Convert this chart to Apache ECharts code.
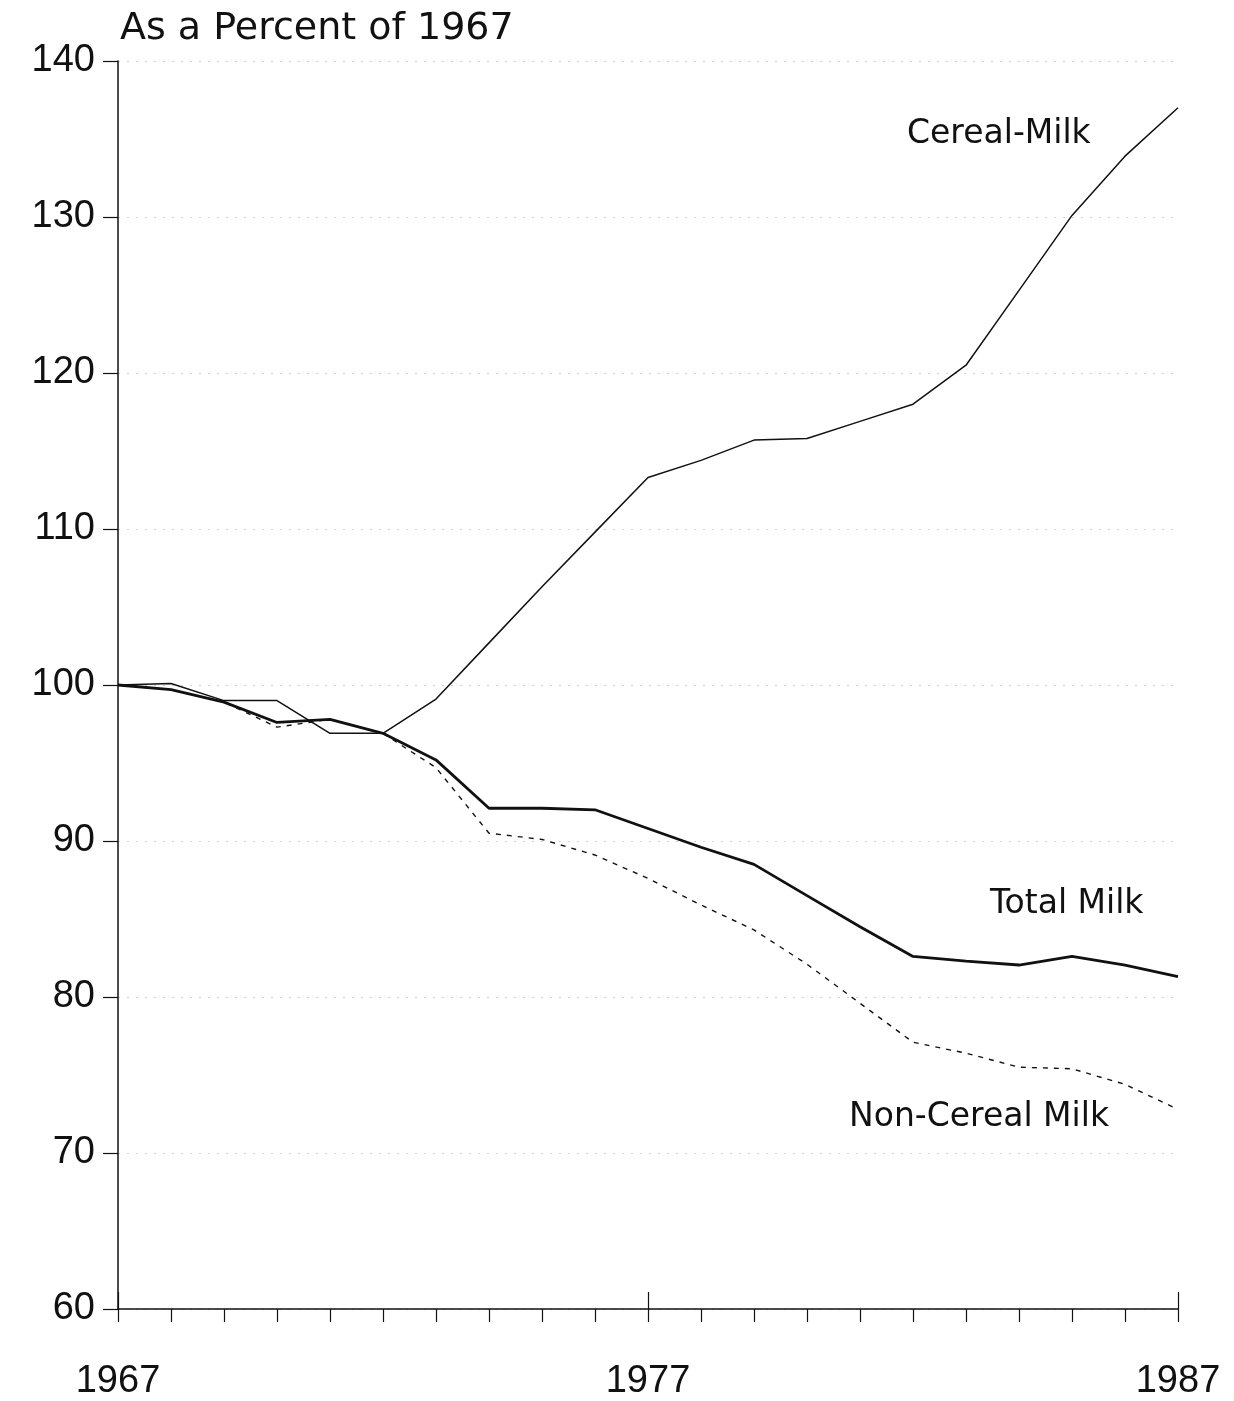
<!DOCTYPE html>
<html>
<head>
<meta charset="utf-8">
<style>
html,body{margin:0;padding:0;background:#fff;}
#chart{width:1234px;height:1401px;}
</style>
<script src="https://cdn.jsdelivr.net/npm/echarts@6/dist/echarts.min.js"></script>
</head>
<body>
<div id="chart"></div>
<script>
const years = [1967,1968,1969,1970,1971,1972,1973,1974,1975,1976,1977,1978,1979,1980,1981,1982,1983,1984,1985,1986,1987];
const cerealMilk = [100, 100.1, 99.0, 99.0, 96.9, 96.9, 99.1, 102.7, 106.3, 109.8, 113.3, 114.4, 115.7, 115.8, 116.9, 118.0, 120.5, 125.3, 130.1, 133.9, 137.0];
const totalMilk = [100, 99.7, 98.9, 97.6, 97.8, 96.9, 95.2, 92.1, 92.1, 92.0, 90.8, 89.6, 88.5, 86.5, 84.5, 82.6, 82.3, 82.05, 82.6, 82.05, 81.3];
const nonCerealMilk = [100, 99.7, 98.9, 97.3, 97.8, 96.9, 94.7, 90.5, 90.1, 89.1, 87.6, 85.9, 84.3, 82.1, 79.6, 77.1, 76.4, 75.5, 75.4, 74.4, 72.8];
const yTicks = [60, 70, 80, 90, 100, 110, 120, 130, 140];
const xLabelYears = [1967, 1977, 1987];
const titleText = 'As a Percent of 1967';
const seriesNames = ['Cereal-Milk', 'Total Milk', 'Non-Cereal Milk'];

const FONT = '"Liberation Sans", Arial, Helvetica, sans-serif';
const WIDE = '"DejaVu Sans", "Liberation Sans", sans-serif';
const INK = '#111';
const pair = (arr) => years.map((y, i) => [y, arr[i]]);

const chart = echarts.init(document.getElementById('chart'), null, {renderer: 'canvas'});
chart.setOption({
  backgroundColor: '#fff',
  animation: false,
  title: {
    text: titleText,
    left: 115, top: 5,
    textStyle: {fontFamily: WIDE, fontSize: 38, fontWeight: 'normal', color: INK}
  },
  grid: {left: 118, right: 56, top: 61, bottom: 92, containLabel: false},
  xAxis: [{
    type: 'value', min: years[0], max: years[years.length - 1], interval: 1,
    position: 'bottom',
    axisLine: {show: true, onZero: false, lineStyle: {color: INK, width: 1.5}},
    axisTick: {show: true, inside: false, length: 13, lineStyle: {color: INK, width: 1.2}},
    axisLabel: {show: false},
    splitLine: {show: false}
  }, {
    type: 'value', min: years[0], max: years[years.length - 1], interval: 10,
    position: 'bottom',
    axisLine: {show: false, onZero: false},
    axisTick: {show: true, inside: true, length: 17, lineStyle: {color: INK, width: 1.2}},
    axisLabel: {
      show: true, margin: 54, color: INK, fontFamily: FONT, fontSize: 38,
      formatter: (v) => xLabelYears.includes(v) ? String(v) : ''
    },
    splitLine: {show: false}
  }],
  yAxis: {
    type: 'value', min: yTicks[0], max: yTicks[yTicks.length - 1], interval: 10,
    axisLine: {show: true, onZero: false, lineStyle: {color: INK, width: 1.5}},
    axisTick: {show: true, inside: false, length: 15, lineStyle: {color: INK, width: 1.2}},
    axisLabel: {margin: 23, color: INK, fontFamily: FONT, fontSize: 38},
    splitLine: {show: true, lineStyle: {color: '#d0d0d0', width: 1, type: [2, 7]}}
  },
  graphic: [
    {type: 'text', left: 907, top: 118, style: {text: seriesNames[0], fill: INK, font: '33px ' + WIDE}},
    {type: 'text', left: 990, top: 888, style: {text: seriesNames[1], fill: INK, font: '33px ' + WIDE}},
    {type: 'text', left: 849, top: 1101, style: {text: seriesNames[2], fill: INK, font: '33px ' + WIDE}}
  ],
  series: [{
    name: seriesNames[0], type: 'line', xAxisIndex: 0, data: pair(cerealMilk),
    symbol: 'none', lineStyle: {color: INK, width: 1.5}, z: 3
  }, {
    name: seriesNames[1], type: 'line', xAxisIndex: 0, data: pair(totalMilk),
    symbol: 'none', lineStyle: {color: INK, width: 2.8}, z: 4
  }, {
    name: seriesNames[2], type: 'line', xAxisIndex: 0, data: pair(nonCerealMilk),
    symbol: 'none', lineStyle: {color: INK, width: 1.4, type: [5, 6]}, z: 2
  }]
});
</script>
</body>
</html>
